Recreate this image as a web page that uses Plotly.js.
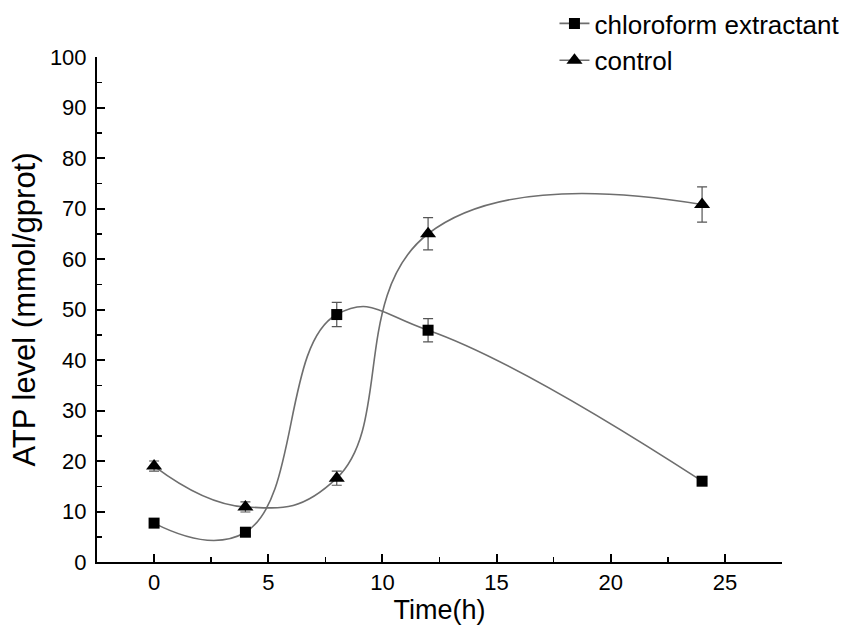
<!DOCTYPE html>
<html>
<head>
<meta charset="utf-8">
<script src="https://cdn.plot.ly/plotly-3.0.1.min.js"></script>
<style>html,body{margin:0;padding:0;background:#fff}</style>
</head>
<body>
<div id="chart" style="width:865px;height:630px"></div>
<script>
var time = [0, 4, 8, 12, 24];
var chloroform = [7.7, 5.9, 49.0, 45.9, 16.0];
var chloroformErr = [0.6, 0.6, 2.4, 2.3, 0.5];
var control = [19.0, 10.9, 16.6, 65.0, 70.8];
var controlErr = [1.0, 1.0, 1.4, 3.2, 3.5];
var seriesNames = ['chloroform extractant', 'control'];
var xTicks = [0, 5, 10, 15, 20, 25];
var yTicks = [0, 10, 20, 30, 40, 50, 60, 70, 80, 90, 100];

var font = 'Liberation Sans, Arial, sans-serif';
var lineColor = '#6e6e6e';

var traces = [
  {
    x: time, y: chloroform, name: seriesNames[0],
    mode: 'lines+markers', type: 'scatter',
    line: {shape: 'spline', smoothing: 1.3, color: lineColor, width: 1.6},
    marker: {symbol: 'square', size: 11, color: '#000'},
    error_y: {type: 'data', array: chloroformErr, visible: true, color: '#555', thickness: 1.2, width: 5}
  },
  {
    x: time, y: control, name: seriesNames[1],
    mode: 'lines+markers', type: 'scatter',
    line: {shape: 'spline', smoothing: 1.3, color: lineColor, width: 1.6},
    marker: {symbol: 'triangle-up', size: 14, color: '#000'},
    error_y: {type: 'data', array: controlErr, visible: true, color: '#555', thickness: 1.2, width: 5}
  }
];

var layout = {
  width: 865, height: 630,
  margin: {l: 97, r: 83, t: 57, b: 68, autoexpand: false},
  paper_bgcolor: '#fff', plot_bgcolor: '#fff',
  font: {family: font, color: '#000', size: 20},
  showlegend: true,
  legend: {
    xref: 'container', yref: 'container',
    x: 0.641, xanchor: 'left', y: 1.004, yanchor: 'top',
    font: {family: font, size: 26, color: '#000'},
    traceorder: 'normal',
    bgcolor: 'rgba(0,0,0,0)'
  },
  xaxis: {
    range: [-2.5, 27.5], tickvals: xTicks, ticktext: xTicks.map(String),
    showline: true, linecolor: '#000', linewidth: 2,
    ticks: 'inside', ticklen: 8, tickwidth: 2, tickcolor: '#000',
    minor: {ticks: 'inside', ticklen: 5, tickwidth: 1.5, tickcolor: '#000', dtick: 2.5, tick0: 0},
    showgrid: false, zeroline: false,
    tickfont: {family: font, size: 22},
    title: {text: 'Time(h)', font: {family: font, size: 27}, standoff: 0}
  },
  yaxis: {
    range: [0, 100], tickvals: yTicks, ticktext: yTicks.map(String),
    showline: true, linecolor: '#000', linewidth: 2,
    ticks: 'inside', ticklen: 8, tickwidth: 2, tickcolor: '#000',
    minor: {ticks: 'inside', ticklen: 5, tickwidth: 1.5, tickcolor: '#000', dtick: 5, tick0: 0},
    showgrid: false, zeroline: false,
    ticklabelstandoff: 4,
    tickfont: {family: font, size: 22},
    title: {text: 'ATP level (mmol/gprot)', font: {family: font, size: 31}, standoff: 5}
  }
};

Plotly.newPlot('chart', traces, layout, {displayModeBar: false, staticPlot: true});
</script>
</body>
</html>
